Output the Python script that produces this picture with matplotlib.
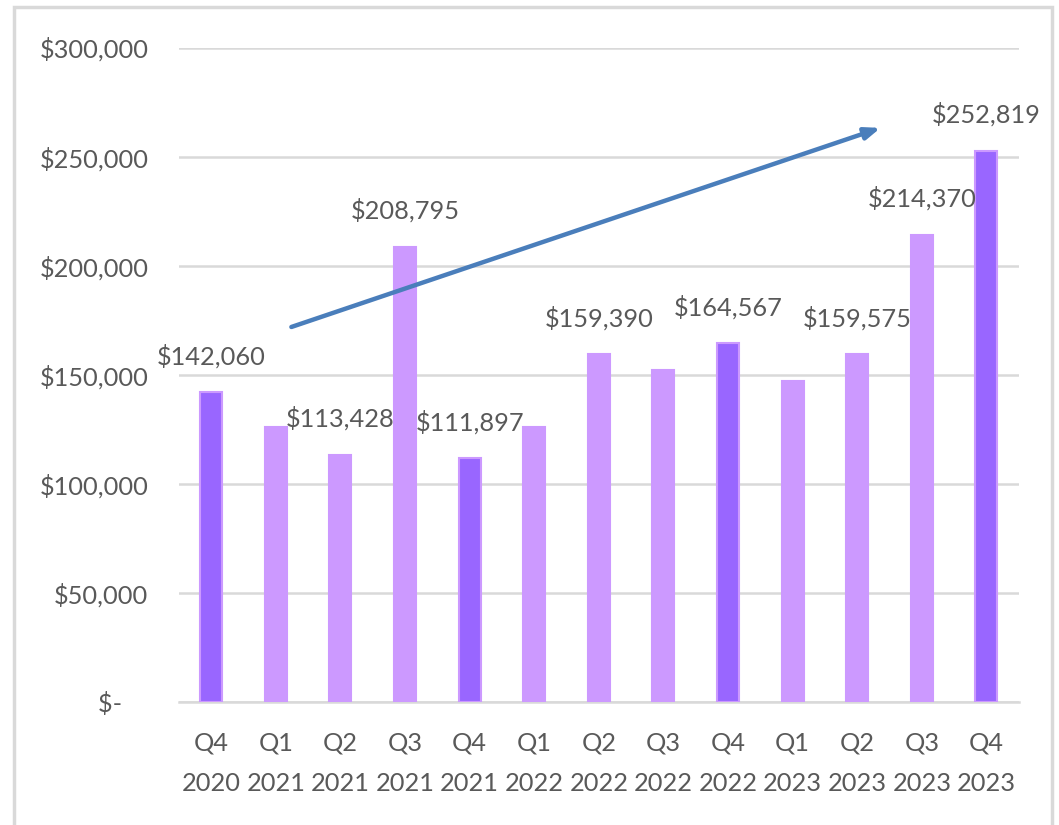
import matplotlib
matplotlib.use("Agg")
import matplotlib.pyplot as plt
from matplotlib.patches import Rectangle

plt.rcParams["font.family"] = ["Lato", "DejaVu Sans"]

# ---------------------------------------------------------------------------
# data
# ---------------------------------------------------------------------------
quarters = ["Q4\n2020", "Q1\n2021", "Q2\n2021", "Q3\n2021", "Q4\n2021", "Q1\n2022",
            "Q2\n2022", "Q3\n2022", "Q4\n2022", "Q1\n2023", "Q2\n2023", "Q3\n2023",
            "Q4\n2023"]
revenue = [142060, 126100, 113428, 208795, 111897, 126300, 159390, 152300,
           164567, 147400, 159575, 214370, 252819]
# which bars carry a value label
show_label = [True, False, True, True, True, False, True, False, True, False,
              True, True, True]
y_ticks = [0, 50000, 100000, 150000, 200000, 250000, 300000]
y_tick_labels = ["$-    ", "$50,000", "$100,000", "$150,000", "$200,000",
                 "$250,000", "$300,000"]
# trend arrow (category index, value)
arrow_start = (1.24, 172000)
arrow_end = (10.36, 263300)

LIGHT = "#CC99FF"
DARK = "#9966FF"
TEXT = "#595959"
GRID = "#D9D9D9"
FS = 18.3

fig = plt.figure(figsize=(10.59, 8.25), dpi=100)
ax = fig.add_axes([0.169, 0.149, 0.793, 0.793])

x = list(range(len(quarters)))
colors = [DARK if q.startswith("Q4") else LIGHT for q in quarters]
ax.bar(x, revenue, width=0.34, color=colors, edgecolor=LIGHT, linewidth=1.5,
       zorder=3)

for xi, v, show in zip(x, revenue, show_label):
    if show:
        ax.annotate(f"${v:,.0f}", (xi, v), xytext=(0, 26),
                    textcoords="offset points", ha="center", va="center",
                    fontsize=FS, color=TEXT, zorder=5)

ax.annotate("", xy=arrow_end, xytext=arrow_start,
            arrowprops=dict(arrowstyle="-|>,head_length=0.9,head_width=0.35",
                            color="#4A7EBB", lw=3.2, shrinkA=0, shrinkB=0),
            zorder=6)

ax.set_xlim(-0.5, len(quarters) - 0.5)
ax.set_ylim(0, 300000)
ax.set_yticks(y_ticks)
ax.set_yticklabels(y_tick_labels)
ax.set_xticks(x)
ax.set_xticklabels(quarters, linespacing=1.95)
ax.tick_params(axis="both", length=0, labelsize=FS, labelcolor=TEXT)
ax.tick_params(axis="y", pad=22)
ax.tick_params(axis="x", pad=21)

ax.grid(axis="y", color=GRID, linewidth=1.8, zorder=0)
for side in ["top", "right", "left"]:
    ax.spines[side].set_visible(False)
ax.spines["bottom"].set_color(GRID)
ax.spines["bottom"].set_linewidth(1.8)

# outer chart frame
fig.patches.append(Rectangle((14 / 1059, -0.01), 1038 / 1059, 1.0015,
                             transform=fig.transFigure, fill=False,
                             edgecolor=GRID, linewidth=2.5))

fig.savefig("out.png", dpi=100)
